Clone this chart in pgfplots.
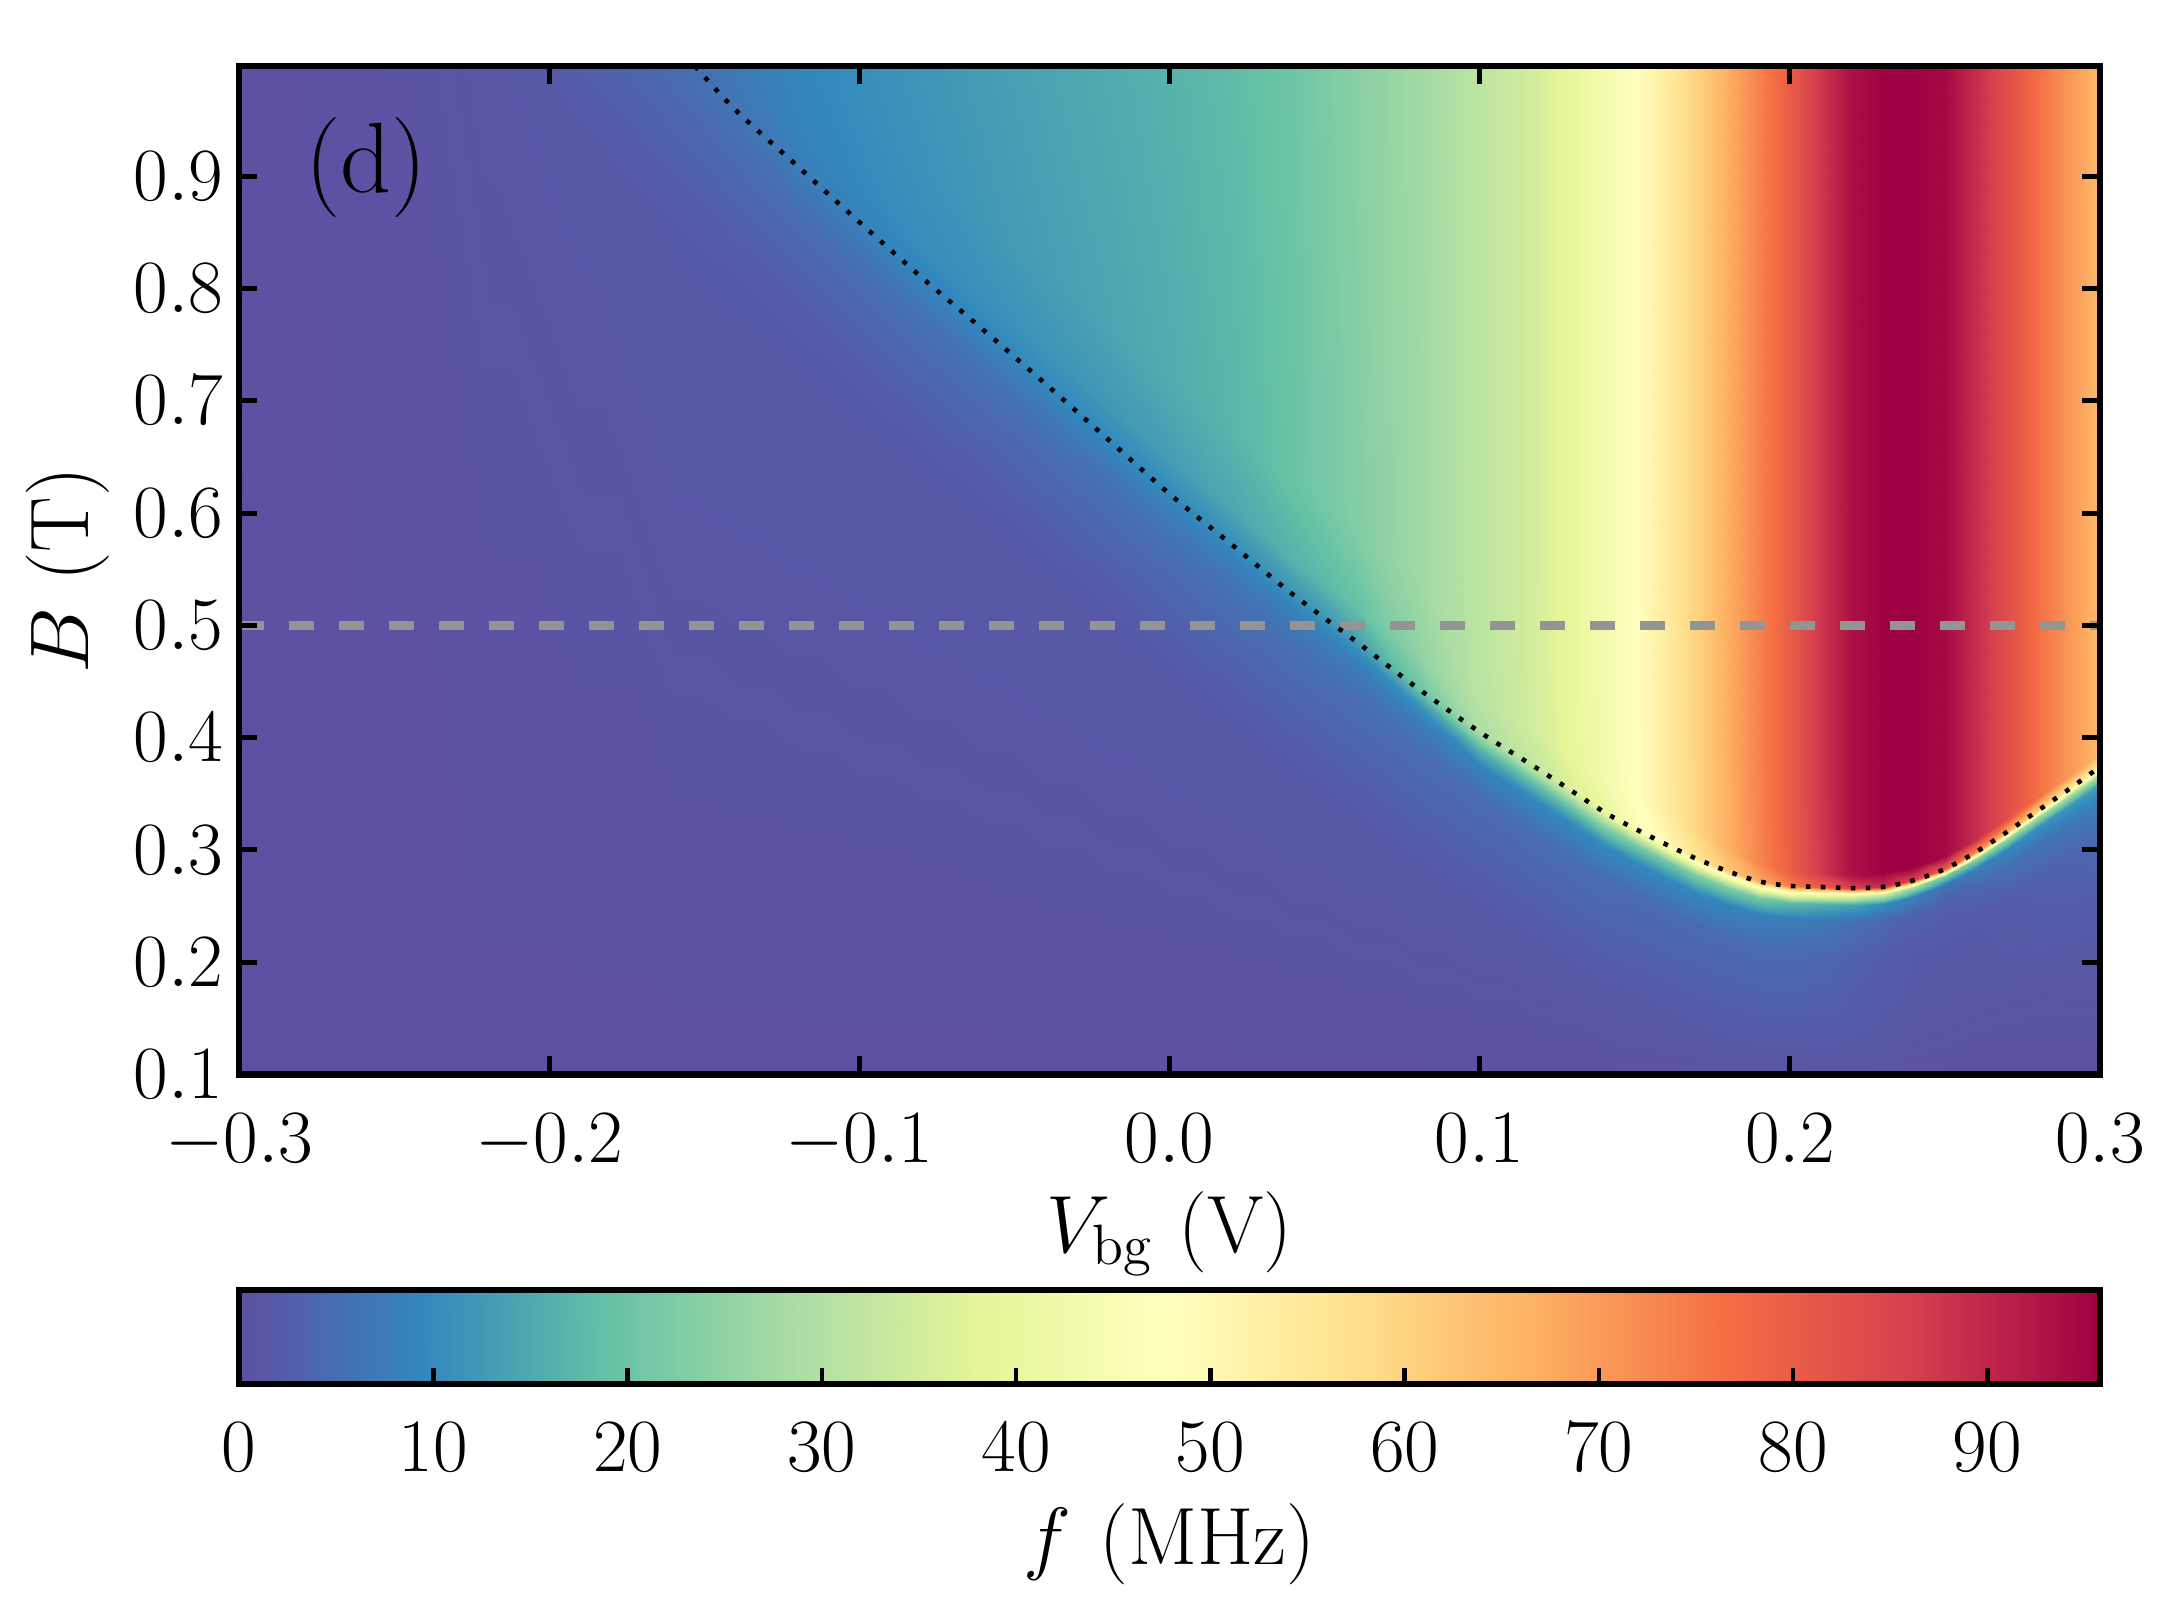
\RequirePackage{fix-cm}
\documentclass[border=0pt]{standalone}
\usepackage{pgfplots}
\pgfplotsset{compat=1.18}
\newcommand\fs{\fontsize{18.8}{24}\selectfont}
\newcommand\fl{\fontsize{20.8}{26}\selectfont}
\newcommand\fx{\fontsize{20.3}{26}\selectfont}

\pgfplotsset{
  colormap={spectralr}{rgb255=(94,79,162) rgb255=(50,136,189) rgb255=(102,194,165) rgb255=(171,221,164) rgb255=(230,245,152) rgb255=(255,255,191) rgb255=(254,224,139) rgb255=(253,174,97) rgb255=(244,109,67) rgb255=(213,62,79) rgb255=(158,1,66)},
  framed/.style={
    scale only axis, axis on top, tick align=inside,
    axis line style={line width=1.55pt},
    tick label style={font=\fs},
    xlabel style={font=\fx},
    ylabel style={font=\fl},
    point meta min=0, point meta max=95.8,
  },
}

% f (MHz) on a grid that follows the dotted line: one line per Vbg value, ten B rows each
\pgfplotstableread[row sep=\\]{
V B f\\
-0.30 0.10 0.2\\ -0.30 1.20 0.3\\ -0.30 1.29 0.3\\ -0.30 1.32 0.3\\ -0.30 1.335 0.3\\ -0.30 1.344 0.3\\ -0.30 1.35 0.3\\ -0.30 1.38 0.3\\ -0.30 1.45 0.3\\ -0.30 1.55 0.3\\
-0.26 0.10 0.3\\ -0.26 1.10 0.6\\ -0.26 1.19 1.0\\ -0.26 1.22 1.0\\ -0.26 1.235 1.0\\ -0.26 1.244 1.0\\ -0.26 1.25 1.0\\ -0.26 1.28 1.0\\ -0.26 1.35 1.0\\ -0.26 1.45 1.0\\
-0.22 0.10 0.3\\ -0.22 1.005 1.2\\ -0.22 1.095 2.0\\ -0.22 1.125 2.0\\ -0.22 1.14 2.0\\ -0.22 1.149 2.0\\ -0.22 1.155 2.0\\ -0.22 1.185 2.0\\ -0.22 1.255 2.0\\ -0.22 1.355 2.0\\
-0.19 0.10 0.3\\ -0.19 0.93 1.4\\ -0.19 1.02 3.0\\ -0.19 1.05 3.5\\ -0.19 1.065 3.5\\ -0.19 1.074 3.5\\ -0.19 1.08 3.5\\ -0.19 1.11 3.5\\ -0.19 1.18 3.5\\ -0.19 1.28 3.5\\
-0.16 0.10 0.3\\ -0.16 0.858 1.7\\ -0.16 0.948 3.6\\ -0.16 0.978 4.3\\ -0.16 0.993 4.8\\ -0.16 1.002 5.0\\ -0.16 1.008 5.2\\ -0.16 1.038 5.4\\ -0.16 1.108 5.4\\ -0.16 1.208 5.4\\
-0.14 0.10 0.3\\ -0.14 0.809 1.7\\ -0.14 0.899 4.0\\ -0.14 0.929 5.0\\ -0.14 0.944 5.6\\ -0.14 0.953 6.0\\ -0.14 0.959 6.3\\ -0.14 0.989 7.0\\ -0.14 1.059 7.6\\ -0.14 1.159 7.6\\
-0.12 0.10 0.3\\ -0.12 0.759 1.7\\ -0.12 0.849 4.3\\ -0.12 0.879 5.6\\ -0.12 0.894 6.6\\ -0.12 0.903 7.2\\ -0.12 0.909 7.6\\ -0.12 0.939 8.6\\ -0.12 1.009 9.4\\ -0.12 1.109 9.4\\
-0.10 0.10 0.3\\ -0.10 0.709 1.7\\ -0.10 0.799 4.5\\ -0.10 0.829 6.0\\ -0.10 0.844 7.2\\ -0.10 0.853 8.0\\ -0.10 0.859 8.6\\ -0.10 0.889 9.6\\ -0.10 0.959 10.3\\ -0.10 1.0 10.6\\
-0.08 0.10 0.3\\ -0.08 0.66 1.7\\ -0.08 0.75 4.6\\ -0.08 0.78 6.2\\ -0.08 0.795 7.6\\ -0.08 0.804 8.5\\ -0.08 0.81 9.1\\ -0.08 0.84 10.4\\ -0.08 0.91 11.2\\ -0.08 1.0 11.8\\
-0.06 0.10 0.3\\ -0.06 0.613 1.7\\ -0.06 0.703 4.7\\ -0.06 0.733 6.3\\ -0.06 0.748 7.8\\ -0.06 0.757 8.8\\ -0.06 0.763 9.4\\ -0.06 0.793 11.0\\ -0.06 0.863 12.2\\ -0.06 1.0 13.0\\
-0.04 0.10 0.3\\ -0.04 0.565 1.7\\ -0.04 0.655 4.7\\ -0.04 0.685 6.4\\ -0.04 0.70 7.9\\ -0.04 0.709 8.9\\ -0.04 0.715 9.6\\ -0.04 0.745 11.6\\ -0.04 0.815 13.2\\ -0.04 1.0 14.2\\
-0.02 0.10 0.3\\ -0.02 0.516 1.7\\ -0.02 0.606 4.8\\ -0.02 0.636 6.5\\ -0.02 0.651 8.0\\ -0.02 0.66 9.0\\ -0.02 0.666 9.8\\ -0.02 0.696 12.2\\ -0.02 0.766 14.2\\ -0.02 1.0 15.3\\
0.00 0.10 0.3\\ 0.00 0.467 1.7\\ 0.00 0.557 4.8\\ 0.00 0.587 6.6\\ 0.00 0.602 8.1\\ 0.00 0.611 9.2\\ 0.00 0.617 10.0\\ 0.00 0.647 13.0\\ 0.00 0.717 15.4\\ 0.00 1.0 16.6\\
0.02 0.10 0.3\\ 0.02 0.422 1.7\\ 0.02 0.512 4.8\\ 0.02 0.542 6.6\\ 0.02 0.557 8.2\\ 0.02 0.566 9.5\\ 0.02 0.572 10.6\\ 0.02 0.602 14.5\\ 0.02 0.672 17.0\\ 0.02 1.0 18.0\\
0.04 0.10 0.3\\ 0.04 0.377 1.7\\ 0.04 0.467 4.8\\ 0.04 0.497 6.6\\ 0.04 0.512 8.4\\ 0.04 0.521 10.0\\ 0.04 0.527 11.5\\ 0.04 0.557 16.5\\ 0.04 0.627 19.5\\ 0.04 1.0 20.3\\
0.06 0.10 0.3\\ 0.06 0.336 1.7\\ 0.06 0.426 4.8\\ 0.06 0.456 6.6\\ 0.06 0.471 8.8\\ 0.06 0.48 11.0\\ 0.06 0.486 13.0\\ 0.06 0.516 19.0\\ 0.06 0.586 23.0\\ 0.06 1.0 24.0\\
0.08 0.10 0.3\\ 0.08 0.294 1.7\\ 0.08 0.384 4.8\\ 0.08 0.414 7.5\\ 0.08 0.429 11.0\\ 0.08 0.438 16.0\\ 0.08 0.444 20.0\\ 0.08 0.474 25.0\\ 0.08 0.544 27.0\\ 0.08 1.0 27.3\\
0.10 0.10 0.3\\ 0.10 0.255 1.7\\ 0.10 0.345 4.8\\ 0.10 0.375 9.0\\ 0.10 0.39 17.0\\ 0.10 0.399 25.0\\ 0.10 0.405 29.0\\ 0.10 0.435 31.0\\ 0.10 0.505 31.5\\ 0.10 1.0 31.5\\
0.12 0.10 0.3\\ 0.12 0.22 1.7\\ 0.12 0.31 5.0\\ 0.12 0.34 9.5\\ 0.12 0.355 19.0\\ 0.12 0.364 29.0\\ 0.12 0.37 33.5\\ 0.12 0.40 35.5\\ 0.12 0.47 36.0\\ 0.12 1.0 36.0\\
0.14 0.10 0.4\\ 0.14 0.184 1.7\\ 0.14 0.274 5.0\\ 0.14 0.304 10.0\\ 0.14 0.319 21.0\\ 0.14 0.328 33.0\\ 0.14 0.334 40.0\\ 0.14 0.364 43.0\\ 0.14 0.434 43.5\\ 0.14 1.0 43.5\\
0.15 0.10 0.5\\ 0.15 0.169 1.6\\ 0.15 0.259 4.6\\ 0.15 0.289 9.5\\ 0.15 0.304 21.0\\ 0.15 0.313 36.0\\ 0.15 0.319 45.0\\ 0.15 0.349 47.5\\ 0.15 0.419 47.8\\ 0.15 1.0 47.8\\
0.16 0.10 0.5\\ 0.16 0.155 1.6\\ 0.16 0.245 4.6\\ 0.16 0.275 9.5\\ 0.16 0.29 21.0\\ 0.16 0.299 38.0\\ 0.16 0.305 50.0\\ 0.16 0.335 53.5\\ 0.16 0.405 54.0\\ 0.16 1.0 54.0\\
0.17 0.10 0.5\\ 0.17 0.142 1.6\\ 0.17 0.232 4.6\\ 0.17 0.262 9.5\\ 0.17 0.277 22.0\\ 0.17 0.286 41.0\\ 0.17 0.292 56.0\\ 0.17 0.317 59.5\\ 0.17 0.392 60.0\\ 0.17 1.0 60.0\\
0.18 0.10 0.5\\ 0.18 0.131 1.6\\ 0.18 0.221 4.6\\ 0.18 0.251 9.0\\ 0.18 0.266 22.0\\ 0.18 0.275 43.0\\ 0.18 0.281 62.0\\ 0.18 0.301 66.5\\ 0.18 0.381 67.0\\ 0.18 1.0 67.0\\
0.19 0.10 0.5\\ 0.19 0.122 1.6\\ 0.19 0.212 4.6\\ 0.19 0.242 8.5\\ 0.19 0.257 21.0\\ 0.19 0.266 45.0\\ 0.19 0.272 68.0\\ 0.19 0.288 73.0\\ 0.19 0.372 73.5\\ 0.19 1.0 73.5\\
0.20 0.10 0.5\\ 0.20 0.118 1.5\\ 0.20 0.208 4.6\\ 0.20 0.238 7.5\\ 0.20 0.253 18.0\\ 0.20 0.262 46.0\\ 0.20 0.268 74.0\\ 0.20 0.28 79.5\\ 0.20 0.368 80.0\\ 0.20 1.0 80.0\\
0.21 0.10 0.4\\ 0.21 0.117 1.4\\ 0.21 0.207 4.2\\ 0.21 0.237 7.0\\ 0.21 0.252 16.0\\ 0.21 0.261 44.0\\ 0.21 0.267 80.0\\ 0.21 0.279 87.0\\ 0.21 0.367 87.5\\ 0.21 1.0 87.5\\
0.22 0.10 0.4\\ 0.22 0.116 1.3\\ 0.22 0.206 3.2\\ 0.22 0.236 5.5\\ 0.22 0.251 14.0\\ 0.22 0.26 41.0\\ 0.22 0.266 85.0\\ 0.22 0.278 93.5\\ 0.22 0.366 93.5\\ 0.22 1.0 93.5\\
0.23 0.10 0.4\\ 0.23 0.117 1.2\\ 0.23 0.207 2.4\\ 0.23 0.237 4.0\\ 0.23 0.252 10.0\\ 0.23 0.261 36.0\\ 0.23 0.267 88.0\\ 0.23 0.279 95.6\\ 0.23 0.367 95.6\\ 0.23 1.0 95.6\\
0.24 0.10 0.4\\ 0.24 0.123 1.0\\ 0.24 0.213 1.8\\ 0.24 0.243 3.5\\ 0.24 0.258 8.0\\ 0.24 0.267 28.0\\ 0.24 0.273 85.0\\ 0.24 0.285 95.8\\ 0.24 0.373 95.8\\ 0.24 1.0 95.8\\
0.25 0.10 0.4\\ 0.25 0.133 1.0\\ 0.25 0.223 1.8\\ 0.25 0.253 3.0\\ 0.25 0.268 5.5\\ 0.25 0.277 22.0\\ 0.25 0.283 80.0\\ 0.25 0.295 94.5\\ 0.25 0.383 94.5\\ 0.25 1.0 94.5\\
0.26 0.10 0.4\\ 0.26 0.148 1.0\\ 0.26 0.238 1.8\\ 0.26 0.268 4.0\\ 0.26 0.283 8.0\\ 0.26 0.292 24.0\\ 0.26 0.298 72.0\\ 0.26 0.31 89.0\\ 0.26 0.398 89.0\\ 0.26 1.0 89.0\\
0.27 0.10 0.4\\ 0.27 0.166 1.1\\ 0.27 0.256 2.4\\ 0.27 0.286 5.5\\ 0.27 0.301 10.0\\ 0.27 0.31 26.0\\ 0.27 0.316 66.0\\ 0.27 0.328 83.0\\ 0.27 0.416 83.0\\ 0.27 1.0 83.0\\
0.28 0.10 0.4\\ 0.28 0.185 1.2\\ 0.28 0.275 3.0\\ 0.28 0.305 6.0\\ 0.28 0.32 11.0\\ 0.28 0.329 28.0\\ 0.28 0.335 60.0\\ 0.28 0.347 76.4\\ 0.28 0.435 76.4\\ 0.28 1.0 76.4\\
0.29 0.10 0.4\\ 0.29 0.204 1.4\\ 0.29 0.294 3.6\\ 0.29 0.324 7.0\\ 0.29 0.339 12.0\\ 0.29 0.348 28.0\\ 0.29 0.354 55.0\\ 0.29 0.366 70.4\\ 0.29 0.454 70.4\\ 0.29 1.0 70.4\\
0.30 0.10 0.4\\ 0.30 0.224 1.6\\ 0.30 0.314 4.5\\ 0.30 0.344 8.0\\ 0.30 0.359 13.0\\ 0.30 0.368 30.0\\ 0.30 0.374 52.0\\ 0.30 0.386 65.0\\ 0.30 0.474 65.0\\ 0.30 1.0 65.0\\
}\fdata

\begin{document}
\begin{tikzpicture}
\useasboundingbox (-59.75pt,-136.75pt) rectangle (483.75pt,268.5pt);
\begin{axis}[
  framed, width=465pt, height=252pt,
  xmin=-0.3, xmax=0.3, ymin=0.1, ymax=0.998,
  xtick={-0.3,-0.2,-0.1,0,0.1,0.2,0.3},
  ytick={0.1,0.2,0.3,0.4,0.5,0.6,0.7,0.8,0.9},
  major tick length=4.5pt,
  tick style={black, line width=1.25pt},
  xticklabel style={yshift=-6.4pt, /pgf/number format/fixed, /pgf/number format/fixed zerofill, /pgf/number format/precision=1},
  yticklabel style={xshift=-0.5pt, /pgf/number format/fixed, /pgf/number format/fixed zerofill, /pgf/number format/precision=1},
  scaled ticks=false,
  xlabel={$V_{\mathrm{bg}}$ (V)},
  xlabel style={yshift=1.2pt},
  ylabel={$B$ (T)},
  ylabel style={yshift=-0.9pt},
]
\addplot[surf, shader=interp, mesh/ordering=y varies, mesh/rows=10, mesh/cols=36, point meta=explicit]
  table[x=V, y=B, meta=f] {\fdata};
\addplot[color={rgb,255:red,148;green,148;blue,148}, line width=2.2pt, dash pattern=on 6.25pt off 6.25pt]
  coordinates {(-0.3,0.5) (0.3,0.5)};
\addplot[black, line width=1.15pt, dash pattern=on 1.15pt off 2.6pt, smooth]
  coordinates {(-0.153,0.998) (-0.14,0.959) (-0.12,0.909) (-0.10,0.859) (-0.08,0.810) (-0.06,0.763) (-0.04,0.715) (-0.02,0.666) (0,0.617) (0.02,0.572) (0.04,0.527) (0.06,0.486) (0.08,0.444) (0.10,0.405) (0.12,0.370) (0.14,0.334) (0.15,0.319) (0.16,0.305) (0.17,0.292) (0.18,0.281) (0.19,0.272) (0.20,0.268) (0.21,0.267) (0.22,0.266) (0.23,0.267) (0.24,0.273) (0.25,0.283) (0.26,0.298) (0.27,0.316) (0.28,0.335) (0.29,0.354) (0.30,0.374)};
\node[font=\fontsize{25}{30}\selectfont] at (axis cs:-0.259,0.908) {(d)};
\end{axis}
% colour bar, drawn as its own axis under the map
\begin{axis}[
  framed, at={(0,-53.75pt)}, anchor=north west, width=465pt, height=23.5pt,
  xmin=0, xmax=95.8, ymin=0, ymax=1,
  xtick={0,10,20,30,40,50,60,70,80,90}, ytick=\empty,
  xtick pos=lower, major tick length=4pt,
  tick style={black, line width=1.1pt},
  xticklabel style={yshift=-6.2pt},
  xlabel={$f$\hspace{0.35em}(MHz)},
  xlabel style={yshift=-1.2pt},
]
\addplot[surf, shader=interp, mesh/rows=2, mesh/cols=2, point meta=explicit]
  table[x=x, y=y, meta=f, row sep=\\] {x y f\\ 0 0 0\\ 95.8 0 95.8\\ 0 1 0\\ 95.8 1 95.8\\};
\end{axis}
\end{tikzpicture}
\end{document}
